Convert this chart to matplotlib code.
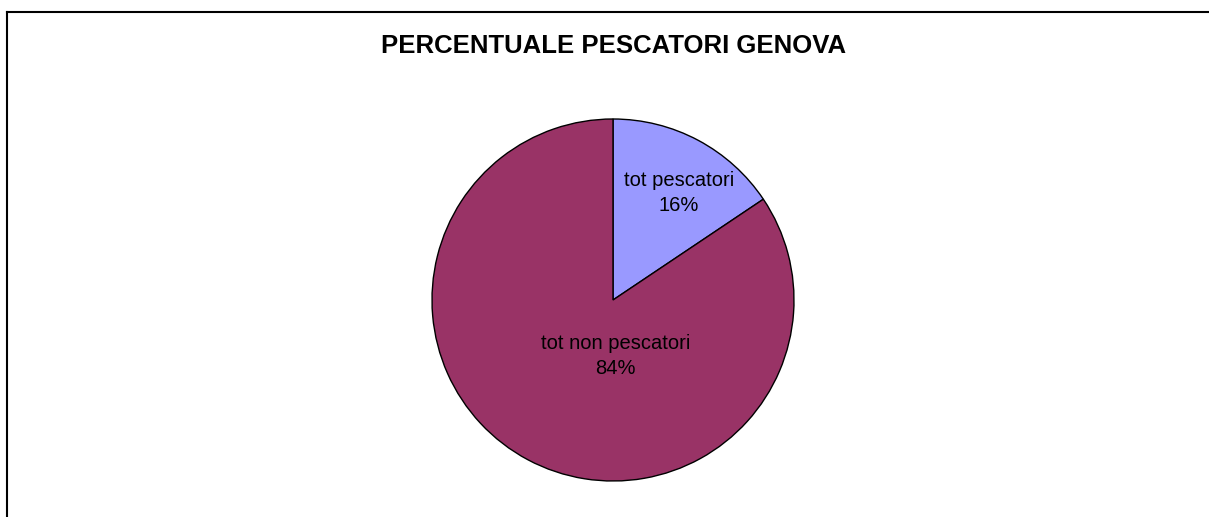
import matplotlib
matplotlib.use("Agg")
import matplotlib.pyplot as plt
from matplotlib.lines import Line2D

categories = ["tot pescatori", "tot non pescatori"]
values = [15.6, 84.4]
colors = ["#9999FF", "#993366"]
title = "PERCENTUALE PESCATORI GENOVA"

plt.rcParams['font.family'] = ['Liberation Sans', 'DejaVu Sans']

W, H = 1209, 517
fig = plt.figure(figsize=(W / 100, H / 100), dpi=100)
fig.patch.set_facecolor("white")

# frame (left and top edges visible)
fig.add_artist(Line2D([7 / W, 7 / W], [0, 1 - 12 / H], transform=fig.transFigure,
                      color="black", lw=1.5, solid_capstyle="projecting"))
fig.add_artist(Line2D([7 / W, 1], [1 - 12 / H, 1 - 12 / H], transform=fig.transFigure,
                      color="black", lw=1.5, solid_capstyle="projecting"))

fig.text(614 / W, 1 - 46 / H, title, ha="center", va="center",
         fontsize=18.5, fontweight="bold")

cx, cy, r = 613, 300, 181
ax = fig.add_axes([(cx - r) / W, (H - cy - r) / H, 2 * r / W, 2 * r / H])
wedges, _ = ax.pie(values, colors=colors, startangle=90, counterclock=False,
                   radius=1, wedgeprops=dict(edgecolor="black", linewidth=1.0))
ax.set_xlim(-1, 1)
ax.set_ylim(-1, 1)
ax.set_aspect("equal")
ax.axis("off")

label_pos = [(0.365, 0.59), (0.015, -0.31)]
total = sum(values)
for cat, v, (x, y) in zip(categories, values, label_pos):
    ax.text(x, y, f"{cat}\n{v / total * 100:.0f}%", ha="center", va="center",
            fontsize=14.5, linespacing=1.4, color="black")

fig.savefig("out.png", dpi=100, facecolor="white")
